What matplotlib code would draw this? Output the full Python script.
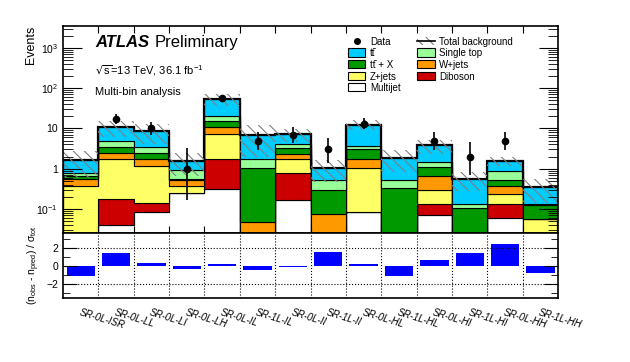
import matplotlib.pyplot as plt
import numpy as np
from matplotlib.patches import Rectangle
from matplotlib.lines import Line2D

plt.rcParams.update({"font.family": ["Liberation Sans", "DejaVu Sans"], "font.size": 7.5,
                     "mathtext.default": "regular", "hatch.linewidth": 0.8})

regions = ["SR-0L-ISR", "SR-0L-LL", "SR-0L-LI", "SR-0L-LH", "SR-0L-IL", "SR-1L-IL", "SR-0L-II",
           "SR-1L-II", "SR-0L-HL", "SR-1L-HL", "SR-0L-HI", "SR-1L-HI", "SR-0L-HH", "SR-1L-HH"]

# expected yields per region (stack order bottom -> top)
multijet  = [0.0, 0.038, 0.083, 0.25, 0.31, 0.0, 0.17, 0.0, 0.085, 0.0, 0.068, 0.0, 0.06, 0.0]
diboson   = [0.0, 0.136, 0.055, 0.0, 1.45, 0.0, 0.61, 0.0, 0.0, 0.0, 0.067, 0.0, 0.07, 0.0]
zjets     = [0.36, 1.55, 1.03, 0.13, 5.64, 0.0, 0.91, 0.0, 0.975, 0.0, 0.16, 0.0, 0.10, 0.056]
wjets     = [0.18, 0.78, 0.62, 0.13, 3.3, 0.047, 0.57, 0.075, 0.66, 0.0, 0.36, 0.0, 0.145, 0.0]
ttx       = [0.10, 1.04, 0.71, 0.05, 4.5, 1.01, 0.94, 0.22, 1.36, 0.33, 0.45, 0.107, 0.15, 0.067]
singletop = [0.14, 1.2, 1.04, 0.35, 5.2, 0.66, 0.85, 0.24, 0.68, 0.18, 0.32, 0.028, 0.34, 0.005]
ttbar     = [0.86, 5.96, 4.96, 0.62, 33.2, 5.25, 3.15, 0.51, 8.74, 1.36, 2.34, 0.42, 0.70, 0.22]
bkg_err   = [1.06, 4.6, 4.5, 0.87, 18.0, 5.0, 2.5, 0.58, 3.5, 1.05, 1.45, 0.27, 0.41, 0.21]

data      = [0, 17, 10, 1, 58, 5, 7, 3, 13, 0, 5, 2, 5, 0]
data_lo   = [0, 4.11, 3.11, 0.83, 7.6, 2.16, 2.58, 1.63, 3.58, 0, 2.16, 1.29, 2.16, 0]
data_hi   = [0, 5.20, 4.27, 2.30, 8.7, 3.38, 3.77, 2.92, 4.71, 0, 3.38, 2.64, 3.38, 0]

pull      = [-1.04, 1.44, 0.33, -0.26, 0.26, -0.37, -0.1, 1.55, 0.26, -1.04, 0.7, 1.44, 2.48, -0.78]

TT = "tt\u0304"
samples = [("Multijet", multijet, "white"),
           ("Diboson", diboson, "#cc0000"),
           ("Z+jets", zjets, "#ffff66"),
           ("W+jets", wjets, "#ff9900"),
           (TT + " + X", ttx, "#009900"),
           ("Single top", singletop, "#99ff99"),
           (TT, ttbar, "#00ccff")]
colors = {name: col for name, _, col in samples}
HATCH = "#808080"

edges = np.arange(len(regions) + 1)
centers = edges[:-1] + 0.5

fig = plt.figure(figsize=(6.3, 3.62), dpi=100)
ax1 = fig.add_axes([0.1, 0.356, 0.786, 0.572])
ax2 = fig.add_axes([0.1, 0.177, 0.786, 0.179])

# stacked background
bottom = np.full(len(regions), 1e-3)
for name, vals, col in samples:
    top = bottom + np.array(vals)
    ax1.stairs(top, edges, baseline=bottom, fill=True, facecolor=col,
               edgecolor="black", linewidth=0.8)
    bottom = top
total = bottom
ax1.stairs(total, edges, color="black", linewidth=1.6)

err = np.array(bkg_err)
ax1.stairs(total + err, edges, baseline=np.clip(total - err, 1e-3, None), fill=True,
           facecolor="none", edgecolor=HATCH, hatch="\\\\\\", linewidth=0)

# data
d = np.array(data, dtype=float)
m = d > 0
ax1.errorbar(centers[m], d[m], yerr=[np.array(data_lo)[m], np.array(data_hi)[m]],
             fmt="o", color="black", ms=4.5, elinewidth=1.2, capsize=0)

ax1.set_yscale("log")
ax1.set_ylim(0.025, 3500)
ax1.set_xlim(0, len(regions))
ax1.set_yticks([0.1, 1, 10, 100, 1000], [r"$10^{-1}$", "1", "10", r"$10^{2}$", r"$10^{3}$"])
ax1.set_xticks(edges[1:-1])
ax1.set_xticklabels([])
ax1.tick_params(axis="y", which="both", direction="in", left=True, right=True)
ax1.tick_params(axis="y", which="major", length=14)
ax1.tick_params(axis="y", which="minor", length=7)
ax1.tick_params(axis="x", which="both", direction="in", top=True, bottom=True, length=5)
ax1.set_ylabel("Events", loc="top", fontsize=9)
ax1.yaxis.set_label_coords(-0.052, 1.0)

# legend, drawn by hand so both columns share the same rows
def fx(x):
    return x / 630

def fy(y):
    return 1 - y / 362

rows = [41, 52.5, 64, 75.5, 87]
col1 = ["Data", TT, TT + " + X", "Z+jets", "Multijet"]
col2 = ["Total background", "Single top", "W+jets", "Diboson"]
for label, y in zip(col1, rows):
    if label == "Data":
        fig.add_artist(Line2D([fx(356.5)], [fy(y)], marker="o", color="black", ms=4))
    else:
        fig.add_artist(Rectangle((fx(348), fy(y + 4)), fx(17), 8 / 362, facecolor=colors[label],
                                 edgecolor="black", linewidth=0.8))
    fig.text(fx(370), fy(y), label, fontsize=7, va="center_baseline")
for label, y in zip(col2, rows):
    if label == "Total background":
        fig.add_artist(Rectangle((fx(417), fy(y + 4)), fx(18), 8 / 362, facecolor="none",
                                 edgecolor=HATCH, hatch="\\\\\\", linewidth=0))
        fig.add_artist(Line2D([fx(417), fx(435)], [fy(y), fy(y)], color="black", linewidth=1.2))
    else:
        fig.add_artist(Rectangle((fx(417), fy(y + 4)), fx(18), 8 / 362, facecolor=colors[label],
                                 edgecolor="black", linewidth=0.8))
    fig.text(fx(439), fy(y), label, fontsize=7, va="center_baseline")

fig.text(fx(95), fy(47), "ATLAS", fontsize=12, fontweight="bold", style="italic")
fig.text(fx(155), fy(47), "Preliminary", fontsize=12)
fig.text(fx(95), fy(75), r"$\sqrt{s}$=13 TeV, 36.1 fb$^{-1}$", fontsize=8)
fig.text(fx(95), fy(95), "Multi-bin analysis", fontsize=8)

# pull panel
ax2.bar(centers, pull, width=0.8, color="#0000ff")
for yv in [-2, 2]:
    ax2.axhline(yv, color="black", linestyle=":", linewidth=0.8)
for xv in edges[1:-1]:
    ax2.axvline(xv, color="black", linestyle=":", linewidth=0.8)
ax2.set_xlim(0, len(regions))
ax2.set_ylim(-3.5, 3.7)
ax2.set_yticks([-2, 0, 2])
ax2.set_yticks([-3, -1, 1, 3], minor=True)
ax2.tick_params(axis="y", which="both", direction="in", left=True, right=True)
ax2.tick_params(axis="y", which="major", length=10)
ax2.tick_params(axis="y", which="minor", length=5)
ax2.set_xticks(centers)
ax2.set_xticklabels(regions, rotation=-17, ha="left", va="top", rotation_mode="anchor",
                    fontstyle="italic", fontsize=7)
ax2.tick_params(axis="x", length=0, pad=7)
ax2.set_ylabel(r"(n$_{obs}$ - n$_{pred}$) / $\sigma_{tot}$", fontsize=7.5)
ax2.yaxis.set_label_coords(-0.042, 0.5)

for ax in (ax1, ax2):
    for s in ax.spines.values():
        s.set_linewidth(1.2)

fig.savefig("out.png", dpi=100)
